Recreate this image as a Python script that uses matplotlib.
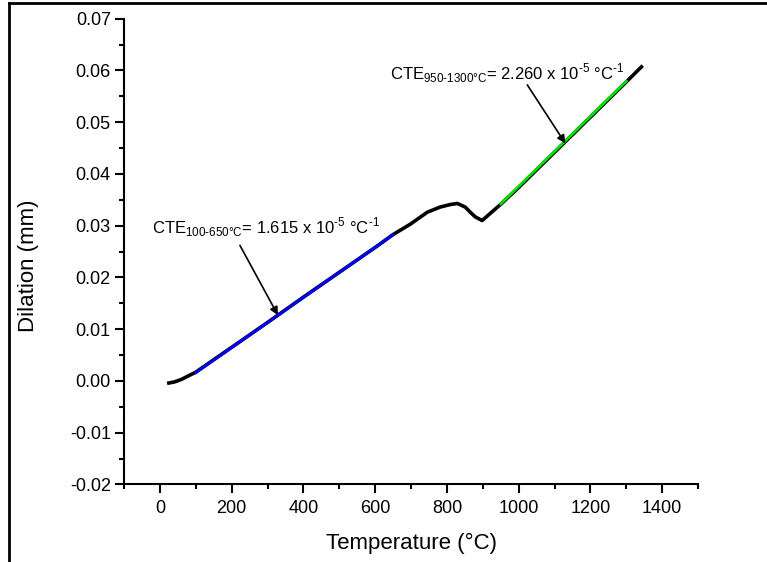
import numpy as np
import matplotlib.pyplot as plt
from matplotlib.lines import Line2D
from matplotlib.ticker import MultipleLocator, FuncFormatter

plt.rcParams['font.family'] = ['Liberation Sans', 'DejaVu Sans']
plt.rcParams['mathtext.fontset'] = 'custom'
plt.rcParams['mathtext.rm'] = 'Liberation Sans'
plt.rcParams['axes.unicode_minus'] = False

# measured dilation curve
temp = [25, 40, 60, 80, 100, 200, 300, 400, 500, 600, 650, 698, 745, 781,
        810, 829, 851, 865, 879, 898, 921, 954, 1000, 1100, 1200, 1300, 1342]
dilation = [-0.0004, -0.0002, 0.0003, 0.0010, 0.0017, 0.0065, 0.0113, 0.0162,
            0.0210, 0.0258, 0.0283, 0.0303, 0.0326, 0.0336, 0.0341, 0.0343,
            0.0336, 0.0326, 0.0317, 0.0310, 0.0324, 0.0344, 0.0374, 0.0442,
            0.0510, 0.0578, 0.0607]

# linear fits, slope = CTE * sample length
sample_length = 3.0  # mm
cte_low, cte_high = 1.615e-5, 2.260e-5
fit_low_range = [100, 650]
fit_high_range = [950, 1300]
fit_low_start = 0.0016
fit_high_start = 0.0342

fit_low = [fit_low_start + cte_low * sample_length * (t - fit_low_range[0]) for t in fit_low_range]
fit_high = [fit_high_start + cte_high * sample_length * (t - fit_high_range[0]) for t in fit_high_range]

fig = plt.figure(figsize=(7.67, 5.62), dpi=100)
ax = fig.add_axes([0.1617, 0.138, 0.7485, 0.8287])

ax.plot(temp, dilation, color='black', lw=2.6)
ax.plot(fit_low_range, fit_low, color='#0000ff', lw=2)
ax.plot(fit_high_range, fit_high, color='#00dd00', lw=2)

ax.set_xlim(-100, 1500)
ax.set_ylim(-0.02, 0.07)
ax.xaxis.set_major_locator(MultipleLocator(200))
ax.xaxis.set_minor_locator(MultipleLocator(100))
ax.yaxis.set_major_locator(MultipleLocator(0.01))
ax.yaxis.set_minor_locator(MultipleLocator(0.005))
ax.yaxis.set_major_formatter(FuncFormatter(lambda v, p: '%.2f' % v))
ax.xaxis.set_major_formatter(FuncFormatter(lambda v, p: '' if v < 0 else '%d' % v))

for s in ['top', 'right']:
    ax.spines[s].set_visible(False)
for s in ['left', 'bottom']:
    ax.spines[s].set_linewidth(1.5)
ax.tick_params(which='major', direction='out', length=6.5, width=1.5, labelsize=13)
ax.tick_params(axis='x', which='major', pad=5)
ax.tick_params(axis='y', which='major', pad=3)
ax.tick_params(which='minor', direction='out', length=3.6, width=1.5)

ax.set_xlabel('Temperature (°C)', fontsize=16)
ax.set_ylabel('Dilation (mm)', fontsize=16)
ax.xaxis.set_label_coords(0.5, -0.105)
ax.yaxis.set_label_coords(-0.148, 0.47)

label_low = r'CTE$_{\mathregular{100\text{-}650°C}}$= 1.615 x 10$^{\mathregular{\text{-}5}}$ °C$^{\mathregular{\text{-}1}}$'
label_high = r'CTE$_{\mathregular{950\text{-}1300°C}}$= 2.260 x 10$^{\mathregular{\text{-}5}}$ °C$^{\mathregular{\text{-}1}}$'

ax.text(-22, 0.0297, label_low, fontsize=12, ha='left', va='center')
ax.text(642, 0.0595, label_high, fontsize=12, ha='left', va='center')

arrow = dict(arrowstyle='-|>', color='black', lw=1.2, mutation_scale=12, shrinkA=0, shrinkB=0)
ax.annotate('', xy=(329, 0.0127), xytext=(223, 0.0262), arrowprops=arrow)
ax.annotate('', xy=(1130, 0.0459), xytext=(1024, 0.0572), arrowprops=arrow)

# frame edges at the top and left of the figure
fig.add_artist(Line2D([9 / 767, 9 / 767], [0, 1 - 3 / 562], transform=fig.transFigure, color='black', lw=2))
fig.add_artist(Line2D([9 / 767, 1], [1 - 3 / 562, 1 - 3 / 562], transform=fig.transFigure, color='black', lw=2))

fig.savefig('out.png', dpi=100)
